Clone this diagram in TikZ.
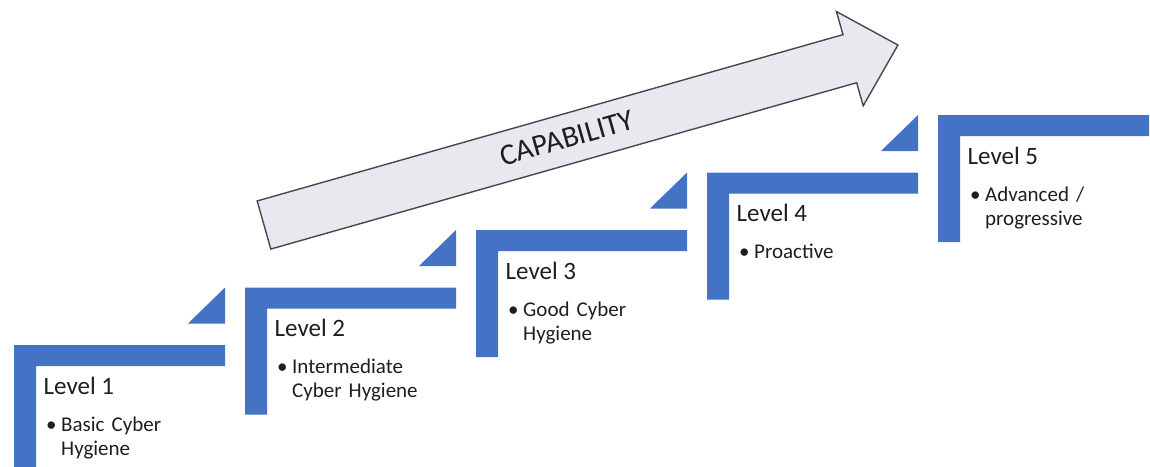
\documentclass[tikz,border=0pt]{standalone}
\usepackage{fontspec}
\setmainfont{Carlito}
\definecolor{barblue}{HTML}{4472C4}
\definecolor{arrowfill}{HTML}{E8E9EE}
\definecolor{arrowline}{HTML}{45484F}
\definecolor{txt}{HTML}{1E1E1E}
\begin{document}
\begin{tikzpicture}[x=1pt,y=1pt,
  stepbar/.style={fill=barblue,draw=none},
  steptri/.style={fill=barblue,draw=none},
  arrowshape/.style={fill=arrowfill,draw=arrowline,line width=1.4pt,line join=miter},
  lvltitle/.style={anchor=base west,inner sep=0pt,text=txt,font=\fontsize{25}{30}\selectfont},
  bulletdot/.style={anchor=base west,inner sep=0pt,text=txt,font=\fontsize{21}{24}\selectfont},
  itemtext/.style={anchor=base west,inner sep=0pt,text=txt,align=left,text width=160pt,font=\fontsize{21}{24}\selectfont},
  caplabel/.style={inner sep=0pt,text=txt,rotate=15.85,font=\fontsize{30}{36}\selectfont}]
\useasboundingbox (0,0) rectangle (1150,-466);
\clip (0,0) rectangle (1150,-466);
% step bars
\foreach \n in {1,...,5}{
  \pgfmathsetmacro\xo{14+231*(\n-1)}
  \pgfmathsetmacro\yo{-345+57.5*(\n-1)}
  \fill[stepbar] (\xo,\yo) -- ++(211,0) -- ++(0,-21) -- ++(-189,0) -- ++(0,-106) -- ++(-22,0) -- cycle;
}
% triangles
\foreach \n in {2,...,5}{
  \pgfmathsetmacro\rx{14+231*(\n-2)+211}
  \pgfmathsetmacro\yt{-345+57.5*(\n-1)}
  \fill[steptri] (\rx,\yt) -- (\rx,\yt-36) -- (\rx-37,\yt-36) -- cycle;
}
% capability arrow
\begin{scope}[shift={(264,-225)},rotate=15.85]
  \draw[arrowshape] (0,25) -- (609,25) -- (609,49) -- (659,0) -- (609,-49) -- (609,-25) -- (0,-25) -- cycle;
\end{scope}
\node[caplabel] (cap) at (567,-138) {CAPABILITY};
% texts
\node[lvltitle] (t1) at (43.5,-394) {Level 1};
\node[bulletdot] (d1) at (46,-431) {•};
\node[itemtext] (i1) at (61,-431) {Basic Cyber\\Hygiene};
\node[lvltitle] (t2) at (274.5,-336.5) {Level 2};
\node[bulletdot] (d2) at (277,-373.5) {•};
\node[itemtext] (i2) at (292,-373.5) {Intermediate\\Cyber Hygiene};
\node[lvltitle] (t3) at (505.5,-279) {Level 3};
\node[bulletdot] (d3) at (508,-316) {•};
\node[itemtext] (i3) at (523,-316) {Good Cyber\\Hygiene};
\node[lvltitle] (t4) at (736.5,-221.5) {Level 4};
\node[bulletdot] (d4) at (739,-258.5) {•};
\node[itemtext] (i4) at (754,-258.5) {Proactive};
\node[lvltitle] (t5) at (967.5,-164) {Level 5};
\node[bulletdot] (d5) at (970,-201) {•};
\node[itemtext] (i5) at (985,-201) {Advanced /\\progressive};
\end{tikzpicture}
\end{document}
